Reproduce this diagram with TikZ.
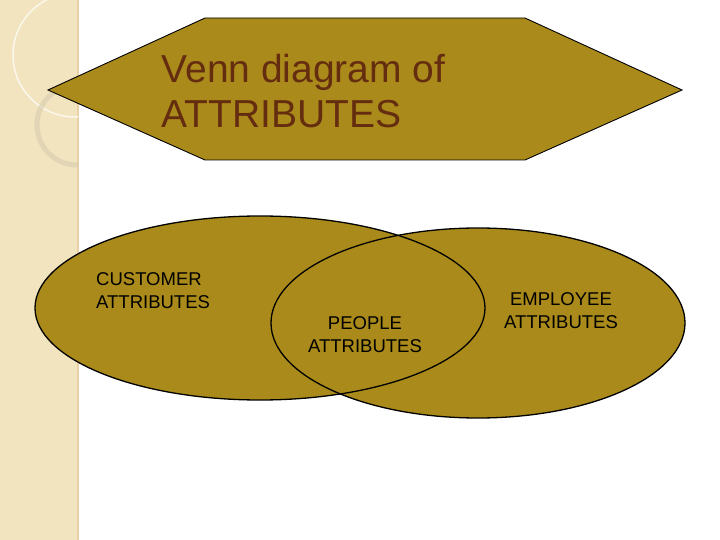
\documentclass[tikz,border=0pt]{standalone}
\usepackage{fontspec}
\setmainfont{Liberation Sans}
\definecolor{gold}{RGB}{170,138,26}
\definecolor{strip}{RGB}{243,228,192}
\definecolor{ttl}{RGB}{100,45,15}
\begin{document}
\begin{tikzpicture}[x=1pt,y=-1pt,
  set/.style={fill=gold},
  outl/.style={draw=black,line width=1.3pt},
  lbl/.style={font=\fontsize{18.5}{23}\selectfont,align=center}]
\useasboundingbox (0,0) rectangle (720,540);
\fill[white] (0,0) rectangle (720,540);
\fill[strip] (0,0) rectangle (78,540);
\draw[strip!80!brown,line width=1.5pt] (78,0) -- (78,540);
\begin{scope}
\clip (0,0) rectangle (78,540);
\draw[white!70!strip,line width=1.5pt] (75,55) circle (62);
\draw[strip!75!gray,line width=5pt,opacity=0.6] (77,125) circle (40);
\end{scope}
\filldraw[fill=gold,draw=black,line width=0.9pt] (48,90) -- (205,18) -- (525,18) -- (682,90) -- (525,160) -- (205,160) -- cycle;
\node[anchor=west,align=left,text=ttl,font=\fontsize{39}{45}\selectfont] (title) at (158,91) {Venn diagram of\\ATTRIBUTES};
\fill[set] (260,308) ellipse (225 and 92);
\fill[set] (478,323) ellipse (207 and 95);
\draw[outl] (260,308) ellipse (225 and 92);
\draw[outl] (478,323) ellipse (207 and 95);
\node[anchor=north west,align=left,font=\fontsize{18.5}{23}\selectfont,inner sep=0pt] (cust) at (96,272) {CUSTOMER\\ATTRIBUTES};
\node[lbl] (ppl) at (365,335) {PEOPLE\\ATTRIBUTES};
\node[lbl] (emp) at (561,311) {EMPLOYEE\\ATTRIBUTES};
\end{tikzpicture}
\end{document}
